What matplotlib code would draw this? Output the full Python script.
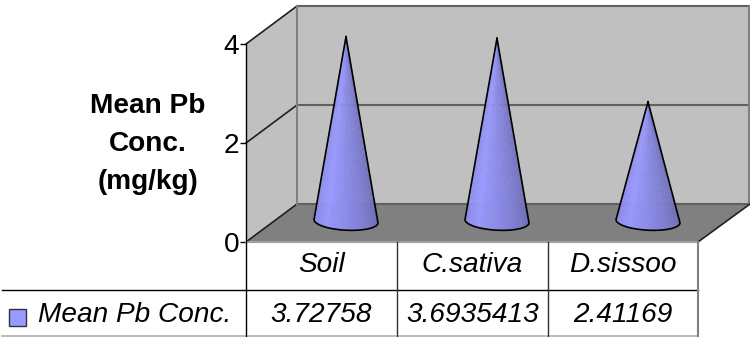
import matplotlib
matplotlib.use("Agg")
import matplotlib.pyplot as plt
import numpy as np

plt.rcParams['font.family'] = ['Liberation Sans', 'DejaVu Sans']

categories = ['Soil', 'C.sativa', 'D.sissoo']
value_labels = ['3.72758', '3.6935413', '2.41169']
values = [3.72758, 3.6935413, 2.41169]
series_name = 'Mean Pb Conc.'
yticks = [0, 2, 4]

W, H = 750, 337
y0_px = 242      # pixel row of value 0
unit = 49.5      # pixels per unit
depth_x, depth_y = 51, 38 / unit
x_left, x_right = 246, 698
col_edges = [246, 397, 548, 698]
cone_x = [346, 497, 648]
FS = 20.2


def row(px):
    # pixel row -> value coordinate
    return (y0_px - px) / unit


fig = plt.figure(figsize=(W / 100, H / 100), dpi=100)
ax = fig.add_axes([0, 0, 1, 1])
ax.set_xlim(0, W)
ax.set_ylim(row(H), row(0))

# walls and floor
top = max(yticks)
ax.fill([x_left, x_left + depth_x, x_left + depth_x, x_left],
        [0, depth_y, top + depth_y, top], color='#c0c0c0', lw=0, zorder=1)
ax.fill([x_left + depth_x, W, W, x_left + depth_x],
        [depth_y, depth_y, top + depth_y, top + depth_y], color='#c0c0c0', lw=0, zorder=1)
ax.fill([x_left, x_right, x_right + depth_x + 1, x_left + depth_x],
        [0, 0, depth_y, depth_y], color='#808080', lw=0, zorder=1)

# gridlines
for t in yticks:
    ax.plot([x_left, x_left + depth_x], [t, t + depth_y], color='#202020', lw=1.2, zorder=2)
    ax.plot([x_left + depth_x, W], [t + depth_y, t + depth_y], color='#606060', lw=1.5, zorder=2)
ax.plot([x_left + depth_x] * 2, [depth_y, top + depth_y], color='#808080', lw=1.5, zorder=2)
ax.plot([W - 1] * 2, [depth_y, top + depth_y], color='#808080', lw=1.5, zorder=2)
ax.plot([x_right, x_right + depth_x + 1], [0, depth_y], color='#202020', lw=1.2, zorder=2)

# cones
base_v = 0.42
half_w = 32
half_h = 9 / unit
for cx, v in zip(cone_x, values):
    t = np.linspace(np.pi, 2 * np.pi, 29)
    bx = cx + half_w * np.cos(t)
    by = base_v + half_h * np.sin(t) - (bx - cx) * 0.05 / unit
    apex = base_v + v
    for i in range(len(t) - 1):
        f = i / (len(t) - 2)
        if f < 0.3:
            s = 0.90 + 0.10 * f / 0.3
        else:
            s = 1.0 - 0.30 * (f - 0.3) / 0.7
        ax.fill([cx, bx[i], bx[i + 1]], [apex, by[i], by[i + 1]],
                color=(0.60 * s, 0.60 * s, 1.0 * s), lw=0.2, zorder=3)
    ax.plot(np.r_[cx, bx, cx], np.r_[apex, by, apex], color='black', lw=1.2,
            solid_joinstyle='round', zorder=4)

# table
ax.plot([x_left, x_right], [0, 0], color='#a0a0a0', lw=1.5, zorder=5)
ax.plot([2, x_right], [row(290)] * 2, color='black', lw=1.0, zorder=5)
ax.plot([2, x_right], [row(336)] * 2, color='#b0b0b0', lw=1.2, zorder=5)
for xe in col_edges[1:3]:
    ax.plot([xe, xe], [0, row(H)], color='#303030', lw=1.0, zorder=5)
ax.plot([x_right, x_right], [0, row(H)], color='#808080', lw=1.5, zorder=5)

for i, (c, lab) in enumerate(zip(categories, value_labels)):
    xm = (col_edges[i] + col_edges[i + 1]) / 2
    ax.text(xm, row(265), c, ha='center', va='center', style='italic', fontsize=FS)
    ax.text(xm, row(315), lab, ha='center', va='center', style='italic', fontsize=FS)

ax.fill([9, 26, 26, 9], [row(309), row(309), row(326), row(326)],
        facecolor='#9999ff', edgecolor='#303030', lw=1.0, zorder=5)
ax.text(38, row(315), series_name, ha='left', va='center', style='italic', fontsize=FS)

# axis title
ax.text(148, row(144), 'Mean Pb\nConc.\n(mg/kg)', ha='center', va='center',
        fontweight='bold', fontsize=FS, linespacing=1.6)

# value axis sits on the front left edge
for s in ['top', 'right', 'bottom']:
    ax.spines[s].set_visible(False)
ax.spines['left'].set_position(('data', x_left))
ax.spines['left'].set_bounds(row(H), top)
ax.spines['left'].set_linewidth(1.0)
ax.spines['left'].set_zorder(6)
ax.set_yticks(yticks)
ax.tick_params(axis='y', direction='out', length=4, width=1, pad=1, labelsize=FS)
ax.set_xticks([])
ax.patch.set_visible(False)

fig.savefig('out.png', dpi=100)
